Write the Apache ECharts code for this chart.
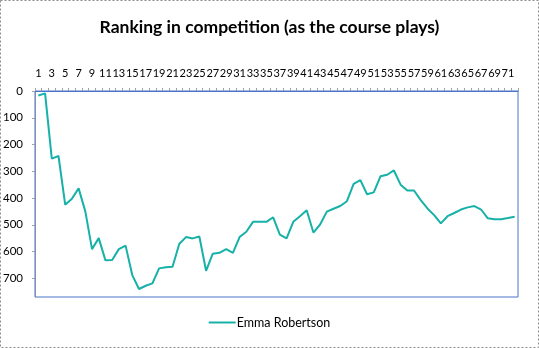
<!DOCTYPE html>
<html>
<head>
<meta charset="utf-8">
<script src="https://cdn.jsdelivr.net/npm/echarts@6/dist/echarts.min.js"></script>
<style>
  html, body { margin: 0; padding: 0; background: #fff; }
  #chart { width: 539px; height: 348px; }
</style>
</head>
<body>
<div id="chart"></div>
<script>
// Holes played, 1..72
const holes = [];
for (let h = 1; h <= 72; h++) holes.push(String(h));

// Position in the field after each hole
const emmaRank = [
  17, 9, 253, 243, 425, 403, 364, 450, 591, 550,
  633, 632, 591, 578, 688, 740, 728, 719, 663, 659,
  657, 572, 546, 551, 544, 672, 608, 605, 591, 605,
  546, 526, 489, 489, 489, 472, 537, 551, 489, 468,
  446, 529, 499, 451, 440, 430, 412, 347, 333, 386,
  379, 319, 313, 297, 350, 372, 372, 408, 439, 464,
  495, 468, 456, 443, 435, 430, 443, 476, 479, 479,
  475, 470
];

const seriesName = 'Emma Robertson';
const rankMin = 0;
const rankMax = 770;
const rankStep = 100;

const chart = echarts.init(document.getElementById('chart'), null, { renderer: 'canvas' });
const font = 'Lato, "Open Sans", sans-serif';
const lineColor = '#17b1a8';

chart.setOption({
  animation: false,
  backgroundColor: '#ffffff',
  title: {
    text: 'Ranking in competition (as the course plays)',
    left: 'center',
    top: 13,
    textStyle: { fontFamily: font, fontSize: 17.5, fontWeight: 'bold', color: '#000' }
  },
  graphic: [{
    type: 'rect',
    shape: { x: 0.5, y: 0.5, width: 538, height: 347 },
    style: { fill: null, stroke: '#8c8c8c', lineWidth: 1, lineDash: [2, 2] },
    silent: true
  }],
  legend: {
    bottom: 14,
    left: 'center',
    itemWidth: 27,
    itemHeight: 2,
    itemGap: 10,
    textStyle: { fontFamily: font, fontSize: 12.5, color: '#000', padding: [0, 0, 0, -4] },
    data: [{ name: seriesName, icon: 'rect', itemStyle: { color: lineColor } }]
  },
  grid: {
    left: 35, right: 21, top: 91, bottom: 51,
    show: true,
    borderColor: '#4a74c9',
    borderWidth: 1,
    containLabel: false
  },
  xAxis: {
    type: 'category',
    position: 'top',
    data: holes,
    boundaryGap: true,
    axisLine: { show: true, lineStyle: { color: '#4a74c9', width: 1 } },
    axisTick: { show: true, interval: 0, length: 3, lineStyle: { color: '#a0a0a0' } },
    axisLabel: {
      interval: 1,
      margin: 12,
      hideOverlap: false,
      fontFamily: font,
      fontSize: 11,
      color: '#000'
    },
    splitLine: { show: false }
  },
  yAxis: {
    type: 'value',
    inverse: true,
    min: rankMin,
    max: rankMax,
    interval: rankStep,
    axisLine: { show: true, lineStyle: { color: '#7f8fb5', width: 1 } },
    axisTick: { show: true, length: 3, lineStyle: { color: '#a0a0a0' } },
    axisLabel: {
      margin: 12,
      showMaxLabel: false,
      fontFamily: font,
      fontSize: 11.5,
      color: '#000'
    },
    splitLine: { show: false }
  },
  series: [{
    name: seriesName,
    type: 'line',
    data: emmaRank,
    symbol: 'none',
    lineStyle: { color: lineColor, width: 2 },
    itemStyle: { color: lineColor }
  }]
});
</script>
</body>
</html>
